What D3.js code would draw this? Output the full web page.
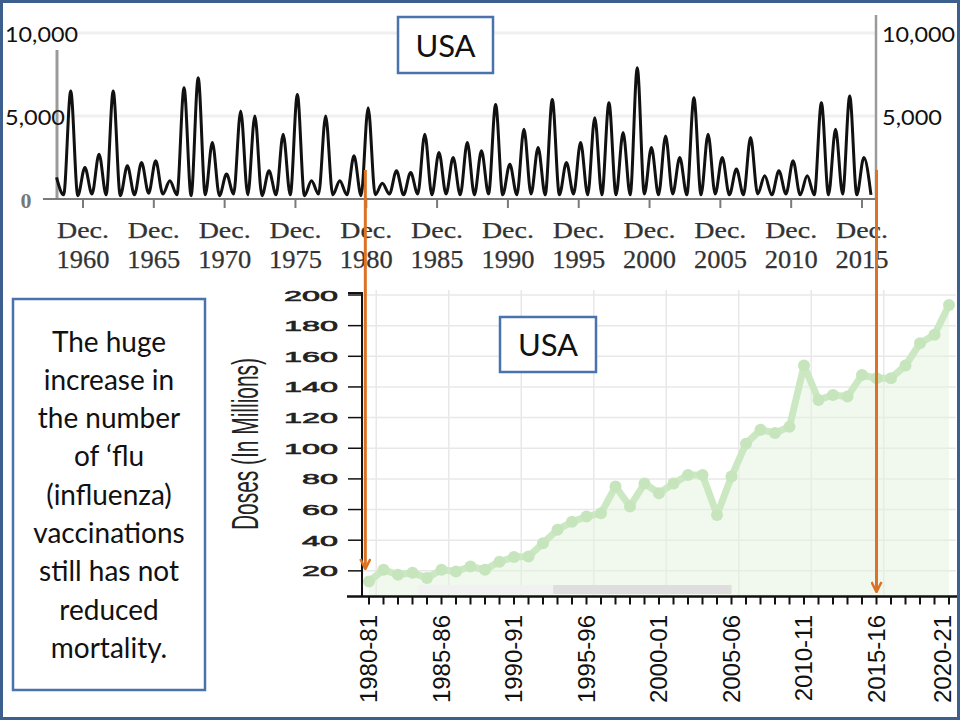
<!DOCTYPE html>
<html>
<head>
<meta charset="utf-8">
<script src="https://cdn.jsdelivr.net/npm/d3@7"></script>
<style>
  body { margin: 0; background: #fff; }
  svg { display: block; }
</style>
</head>
<body>
<svg id="slide" width="960" height="720"></svg>
<script>
// ---- top chart: weekly flu deaths, USA (peak of each winter, low of each summer)
var peakYears = [1959, 1960, 1961, 1962, 1963, 1964, 1965, 1966, 1967, 1968,
                 1969, 1970, 1971, 1972, 1973, 1974, 1975, 1976, 1977, 1978,
                 1979, 1980, 1981, 1982, 1983, 1984, 1985, 1986, 1987, 1988,
                 1989, 1990, 1991, 1992, 1993, 1994, 1995, 1996, 1997, 1998,
                 1999, 2000, 2001, 2002, 2003, 2004, 2005, 2006, 2007, 2008,
                 2009, 2010, 2011, 2012, 2013, 2014, 2015, 2016];
var winterPeaks = [1300, 6500, 1900, 2700, 6500, 2000, 2200, 2300, 1100, 6700,
                   7300, 3400, 1500, 5300, 5000, 1700, 3900, 6300, 1100, 5000,
                   1100, 2600, 5500, 950, 1700, 1600, 3900, 2800, 2500, 3400,
                   2900, 5700, 2100, 4200, 3100, 6000, 2200, 3400, 4900, 5800,
                   4000, 7900, 3100, 3800, 2500, 6100, 3900, 2500, 1800, 3700,
                   1400, 1700, 2300, 1400, 5800, 4200, 6200, 2500];
var summerLows = [250, 200, 300, 250, 200, 250, 350, 300, 250, 200,
                  250, 200, 300, 250, 200, 250, 250, 200, 300, 250,
                  250, 200, 250, 300, 250, 300, 250, 300, 250, 250,
                  300, 250, 250, 300, 250, 250, 300, 250, 250, 250,
                  250, 300, 250, 300, 250, 250, 300, 250, 250, 300,
                  250, 300, 250, 250, 250, 300, 250, 250];
var topTickYears = [1960, 1965, 1970, 1975, 1980, 1985, 1990, 1995, 2000, 2005, 2010, 2015];
var topValueTicks = [5000, 10000];

// ---- bottom chart: flu vaccine doses distributed (millions)
var seasons = ["1980-81", "1981-82", "1982-83", "1983-84", "1984-85", "1985-86", "1986-87",
               "1987-88", "1988-89", "1989-90", "1990-91", "1991-92", "1992-93", "1993-94",
               "1994-95", "1995-96", "1996-97", "1997-98", "1998-99", "1999-00", "2000-01",
               "2001-02", "2002-03", "2003-04", "2004-05", "2005-06", "2006-07", "2007-08",
               "2008-09", "2009-10", "2010-11", "2011-12", "2012-13", "2013-14", "2014-15",
               "2015-16", "2016-17", "2017-18", "2018-19", "2019-20", "2020-21"];
var doses = [13, 20.7, 17.4, 18.7, 15.4, 20.7, 19.6, 22.8, 20.7, 26, 29,
             29.3, 38, 46.8, 52, 55.4, 57.6, 75, 62, 77, 70.7,
             77, 82.6, 82.6, 56.5, 81.5, 103, 112, 110, 114, 154,
             131.5, 134.8, 133.7, 147.8, 145.7, 145.7, 154, 168.5, 174, 193.5];
var doseTicks = [20, 40, 60, 80, 100, 120, 140, 160, 180, 200];
var seasonLabels = ["1980-81", "1985-86", "1990-91", "1995-96", "2000-01",
                    "2005-06", "2010-11", "2015-16", "2020-21"];

var noteLines = ["The huge", "increase in", "the number", "of \u2018flu", "(influenza)",
                 "vaccinations", "still has not", "reduced", "mortality."];

var svg = d3.select('#slide');
var boxBlue = '#4a73ad';
var orange = '#dc7223';

// ================= TOP CHART =================
var xTop = d3.scaleLinear().domain([1960.917, 2015.917]).range([83, 862]);
var yTop = d3.scaleLinear().domain([0, 10000]).range([199, 33]);

var topG = svg.append('g');

// faint gridlines
topG.selectAll('.tgrid').data(topValueTicks).enter().append('line')
  .attr('x1', 57).attr('x2', 876)
  .attr('y1', function(d) { return yTop(d); })
  .attr('y2', function(d) { return yTop(d); })
  .attr('stroke', '#f0f0f0').attr('stroke-width', 3);

// side axis bars
topG.append('line').attr('x1', 57).attr('x2', 57).attr('y1', 50).attr('y2', yTop(0))
  .attr('stroke', '#9a9a9a').attr('stroke-width', 3);
topG.append('line').attr('x1', 876).attr('x2', 876).attr('y1', 15).attr('y2', yTop(0))
  .attr('stroke', '#9a9a9a').attr('stroke-width', 2.5);

// build the seasonal line from peaks and lows
var topPts = [];
peakYears.forEach(function(yr, i) {
  topPts.push([yr + 0.05, winterPeaks[i]]);
  topPts.push([yr + 0.55, summerLows[i]]);
});

var topLine = d3.line()
  .x(function(d) { return xTop(d[0]); })
  .y(function(d) { return yTop(d[1]); })
  .curve(d3.curveMonotoneX);

topG.append('path').datum(topPts)
  .attr('d', topLine)
  .attr('fill', 'none')
  .attr('stroke', '#111')
  .attr('stroke-width', 3)
  .attr('stroke-linejoin', 'round');

// x axis
topG.append('line').attr('x1', 43).attr('x2', 876).attr('y1', yTop(0)).attr('y2', yTop(0))
  .attr('stroke', '#7a7a7a').attr('stroke-width', 2);

var tickG = topG.selectAll('.ttick').data(topTickYears).enter().append('g')
  .attr('transform', function(d) { return 'translate(' + xTop(d + 0.917) + ',0)'; });
tickG.append('line').attr('y1', yTop(0)).attr('y2', yTop(0) + 9)
  .attr('stroke', '#7a7a7a').attr('stroke-width', 2);
tickG.append('text').attr('y', 238).attr('text-anchor', 'middle')
  .attr('textLength', 52).attr('lengthAdjust', 'spacingAndGlyphs')
  .style('font', '24px "Liberation Serif", serif').attr('fill', '#333')
  .attr('stroke', '#333').attr('stroke-width', 0.25)
  .text('Dec.');
tickG.append('text').attr('y', 268).attr('text-anchor', 'middle')
  .attr('textLength', 53).attr('lengthAdjust', 'spacingAndGlyphs')
  .style('font', '25px "Liberation Serif", serif').attr('fill', '#333')
  .attr('stroke', '#333').attr('stroke-width', 0.25)
  .text(function(d) { return d; });

topG.append('text').attr('x', 26).attr('y', 208).attr('text-anchor', 'middle')
  .style('font', 'bold 22px "Liberation Serif", serif').attr('fill', '#777')
  .text('0');

// value labels (slide text boxes)
var fmt = d3.format(',');
[5, 882].forEach(function(px) {
  topG.selectAll(null).data(topValueTicks).enter().append('text')
    .attr('x', px)
    .attr('y', function(d) { return yTop(d) + 9; })
    .attr('textLength', function(d) { return d >= 10000 ? 73 : 60; })
    .attr('lengthAdjust', 'spacingAndGlyphs')
    .style('font', '22px Lato, sans-serif').attr('fill', '#111')
    .text(function(d) { return fmt(d); });
});

// ================= BOTTOM CHART =================
var xBot = d3.scaleLinear().domain([0, seasons.length - 1]).range([369, 949]);
var yBot = d3.scaleLinear().domain([0, 200]).range([601.5, 295]);
var axisY = 596.5;

var botG = svg.append('g');

// gridlines
botG.selectAll('.hgrid').data(doseTicks).enter().append('line')
  .attr('x1', 362).attr('x2', 956)
  .attr('y1', function(d) { return yBot(d); })
  .attr('y2', function(d) { return yBot(d); })
  .attr('stroke', '#e8e8e8').attr('stroke-width', 1.5);
var vGrid = [0.5, 5.5, 10.5, 15.5, 20.5, 25.5, 30.5, 35.5];
botG.selectAll('.vgrid').data(vGrid).enter().append('line')
  .attr('x1', function(d) { return xBot(d); })
  .attr('x2', function(d) { return xBot(d); })
  .attr('y1', 290).attr('y2', axisY)
  .attr('stroke', '#e8e8e8').attr('stroke-width', 1.5);

// area, line, dots
var area = d3.area()
  .x(function(d, i) { return xBot(i); })
  .y0(axisY)
  .y1(function(d) { return yBot(d); });
botG.append('path').datum(doses).attr('d', area)
  .attr('fill', '#e4f3df').attr('fill-opacity', 0.5);

// scrollbar remnants under the plot
botG.append('rect').attr('x', xBot(3.4)).attr('width', xBot(12.7) - xBot(3.4))
  .attr('y', 585).attr('height', 9).attr('fill', '#f1f1f1');
botG.append('rect').attr('x', xBot(12.7)).attr('width', xBot(25) - xBot(12.7))
  .attr('y', 585).attr('height', 9).attr('fill', '#dedede');

var line = d3.line()
  .x(function(d, i) { return xBot(i); })
  .y(function(d) { return yBot(d); });
botG.append('path').datum(doses).attr('d', line)
  .attr('fill', 'none').attr('stroke', '#cbe8c3').attr('stroke-width', 7)
  .attr('stroke-linejoin', 'round');
botG.selectAll('.dot').data(doses).enter().append('circle')
  .attr('cx', function(d, i) { return xBot(i); })
  .attr('cy', function(d) { return yBot(d); })
  .attr('r', 6).attr('fill', '#c6e5bd');

// axes
botG.append('path').attr('d', 'M348,293H362V' + axisY)
  .attr('fill', 'none').attr('stroke', '#111').attr('stroke-width', 2);
botG.selectAll('.ytick').data(doseTicks).enter().append('line')
  .attr('x1', 348).attr('x2', 362)
  .attr('y1', function(d) { return yBot(d); })
  .attr('y2', function(d) { return yBot(d); })
  .attr('stroke', '#111').attr('stroke-width', 1.5);
botG.selectAll('.ylab').data(doseTicks).enter().append('text')
  .attr('x', 338).attr('y', function(d) { return yBot(d) + 5.5; })
  .attr('text-anchor', 'end')
  .attr('textLength', function(d) { return String(d).length * 18; })
  .attr('lengthAdjust', 'spacingAndGlyphs')
  .style('font', '15px "Liberation Sans", Arial, sans-serif').attr('fill', '#222')
  .attr('stroke', '#222').attr('stroke-width', 0.6)
  .text(function(d) { return d; });

botG.append('text')
  .attr('transform', 'translate(258,444) rotate(-90)')
  .attr('text-anchor', 'middle')
  .attr('textLength', 172).attr('lengthAdjust', 'spacingAndGlyphs')
  .style('font', '36px "Liberation Sans", Arial, sans-serif').attr('fill', '#222')
  .text('Doses (In Millions)');

botG.append('line').attr('x1', 347).attr('x2', 958).attr('y1', axisY).attr('y2', axisY)
  .attr('stroke', '#111').attr('stroke-width', 2.5);
botG.selectAll('.xtick').data(seasons).enter().append('line')
  .attr('x1', function(d, i) { return xBot(i); })
  .attr('x2', function(d, i) { return xBot(i); })
  .attr('y1', axisY).attr('y2', axisY + 8)
  .attr('stroke', '#111').attr('stroke-width', 2);
botG.selectAll('.xlab').data(seasonLabels).enter().append('text')
  .attr('transform', function(d) {
    var bx = Math.min(xBot(seasons.indexOf(d)) + 8, 951);
    return 'translate(' + bx + ',615) rotate(-90)';
  })
  .attr('text-anchor', 'end')
  .style('font', '24px "Liberation Sans", Arial, sans-serif').attr('fill', '#111')
  .text(function(d) { return d; });

// ================= TEXT BOXES =================
function box(x, y, w, h) {
  svg.append('rect').attr('x', x).attr('y', y).attr('width', w).attr('height', h)
    .attr('fill', '#fff').attr('stroke', boxBlue).attr('stroke-width', 2.5);
}
box(398, 17, 95, 56);
svg.append('text').attr('x', 445.5).attr('y', 57).attr('text-anchor', 'middle')
  .style('font', '31px Lato, sans-serif').attr('fill', '#111').text('USA');
box(500, 317, 96, 55);
svg.append('text').attr('x', 548).attr('y', 356).attr('text-anchor', 'middle')
  .style('font', '31px Lato, sans-serif').attr('fill', '#111').text('USA');

box(13, 299, 192, 391);
svg.selectAll('.note').data(noteLines).enter().append('text')
  .attr('x', 109)
  .attr('y', function(d, i) { return 351.5 + i * 38.3; })
  .attr('text-anchor', 'middle')
  .style('font', '28px Lato, sans-serif').attr('fill', '#111')
  .text(function(d) { return d; });

// ================= ORANGE ARROWS =================
svg.append('defs').append('marker')
  .attr('id', 'head').attr('viewBox', '0 0 12 12')
  .attr('refX', 11).attr('refY', 6)
  .attr('markerWidth', 12).attr('markerHeight', 12)
  .attr('markerUnits', 'userSpaceOnUse')
  .attr('orient', 'auto')
  .append('path').attr('d', 'M1,1L11,6L1,11')
  .attr('fill', 'none').attr('stroke', orange).attr('stroke-width', 2.5);

var arrows = [[xTop(1980.85), 569], [xBot(35), 592]];
svg.selectAll('.arrow').data(arrows).enter().append('line')
  .attr('x1', function(d) { return d[0]; }).attr('x2', function(d) { return d[0]; })
  .attr('y1', 170).attr('y2', function(d) { return d[1]; })
  .attr('stroke', orange).attr('stroke-width', 3)
  .attr('marker-end', 'url(#head)');

// slide frame
svg.append('rect').attr('x', 1.5).attr('y', 1.5).attr('width', 957).attr('height', 717)
  .attr('fill', 'none').attr('stroke', '#3d5f8e').attr('stroke-width', 3);
</script>
</body>
</html>
